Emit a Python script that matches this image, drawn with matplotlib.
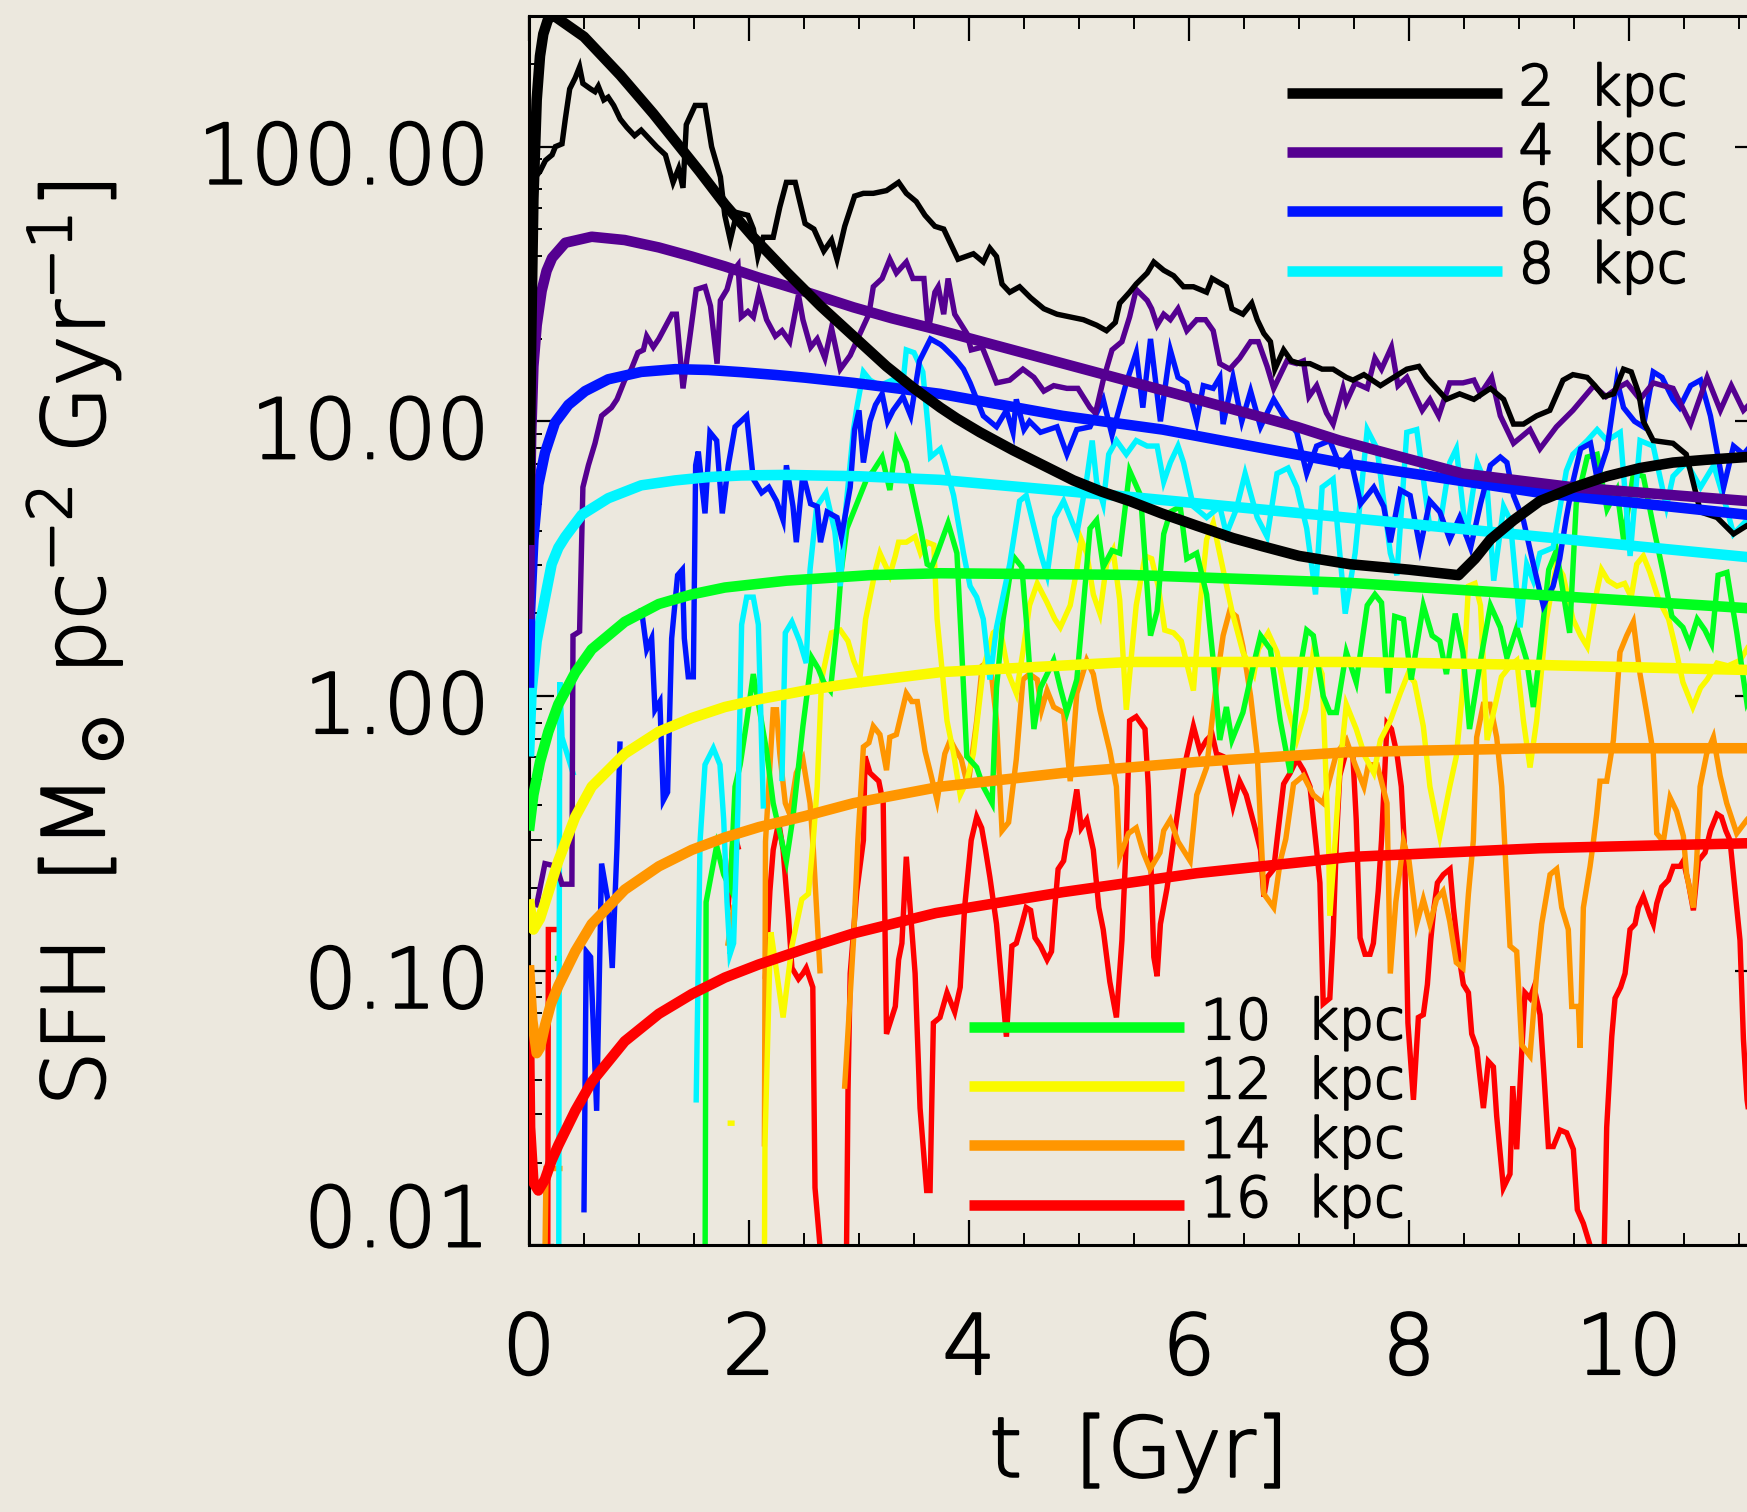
import numpy as np
import matplotlib
matplotlib.use("Agg")
import matplotlib.pyplot as plt
import matplotlib.transforms as mtransforms
import matplotlib.patheffects as patheffects
from matplotlib.legend_handler import HandlerLine2D
from matplotlib.lines import Line2D
from matplotlib.ticker import FixedLocator, LogLocator, MultipleLocator, NullFormatter

# ---------------------------------------------------------------------------
# Star formation histories at several galactocentric radii.
# Each series is a list of (t [Gyr], log10 SFH [Msun pc^-2 Gyr^-1]);
# a None value marks a gap (zero star formation).
# ---------------------------------------------------------------------------
RADII_KPC = [2, 4, 6, 8, 10, 12, 14, 16]
XTICKS = [0, 2, 4, 6, 8, 10]
YTICKS = [0.01, 0.1, 1.0, 10.0, 100.0]

# analytic model curves
MODEL_2KPC = [(0.00, 0.55), (0.01, 0.95), (0.02, 1.30), (0.04, 1.81), (0.07, 2.17), (0.10, 2.33),
              (0.13, 2.41), (0.17, 2.46), (0.21, 2.48), (0.25, 2.47), (0.50, 2.40), (0.83, 2.26),
              (1.13, 2.12), (1.33, 2.02), (1.55, 1.91), (1.78, 1.79), (2.04, 1.67), (2.35, 1.54),
              (2.65, 1.42), (2.95, 1.31), (3.25, 1.20), (3.50, 1.12), (3.74, 1.05), (3.89, 1.01),
              (4.10, 0.96), (4.40, 0.895), (4.70, 0.835), (4.95, 0.785), (5.20, 0.745), (5.46, 0.71),
              (5.75, 0.665), (6.07, 0.62), (6.40, 0.575), (6.67, 0.545), (7.00, 0.51), (7.46, 0.48),
              (8.00, 0.46), (8.45, 0.44), (8.60, 0.50), (8.74, 0.57), (8.95, 0.64), (9.19, 0.71),
              (9.50, 0.76), (9.80, 0.80), (10.10, 0.83), (10.40, 0.85), (10.70, 0.86), (11.07, 0.87),
              (11.20, 0.87)]
MODEL_4KPC = [(0.00, 0.28), (0.01, 0.72), (0.02, 0.95), (0.04, 1.20), (0.07, 1.35), (0.115, 1.475),
              (0.16, 1.548), (0.21, 1.595), (0.33, 1.65), (0.57, 1.672), (0.87, 1.66), (1.18, 1.633),
              (1.48, 1.60), (1.78, 1.564), (2.09, 1.523), (2.51, 1.472), (2.95, 1.415), (3.30, 1.375),
              (3.70, 1.335), (4.86, 1.21), (6.07, 1.08), (6.98, 0.98), (7.37, 0.93), (8.49, 0.81),
              (9.49, 0.76), (11.07, 0.71), (11.20, 0.71)]
MODEL_6KPC = [(0.00, 0.03), (0.01, 0.31), (0.04, 0.57), (0.085, 0.77), (0.145, 0.885), (0.236, 0.995),
              (0.358, 1.06), (0.51, 1.11), (0.72, 1.153), (1.02, 1.18), (1.33, 1.19), (1.63, 1.187),
              (1.93, 1.179), (2.24, 1.169), (2.51, 1.159), (2.95, 1.14), (3.74, 1.10), (4.85, 1.02),
              (5.76, 0.97), (7.37, 0.85), (8.36, 0.79), (9.19, 0.74), (11.07, 0.66), (11.20, 0.655)]
MODEL_8KPC = [(0.00, -0.22), (0.024, 0.02), (0.07, 0.20), (0.118, 0.30), (0.206, 0.48), (0.267, 0.54),
              (0.33, 0.58), (0.48, 0.66), (0.72, 0.72), (1.02, 0.767), (1.33, 0.785), (1.63, 0.797),
              (1.93, 0.803), (2.34, 0.805), (3.00, 0.80), (3.74, 0.787), (5.46, 0.725), (7.37, 0.652),
              (9.19, 0.58), (11.07, 0.506), (11.20, 0.50)]
MODEL_10KPC = [(0.00, -0.49), (0.04, -0.36), (0.10, -0.24), (0.176, -0.13), (0.267, -0.03), (0.42, 0.085),
               (0.57, 0.17), (0.87, 0.27), (1.18, 0.335), (1.48, 0.37), (1.78, 0.395), (2.34, 0.42),
               (3.10, 0.44), (3.74, 0.447), (5.46, 0.441), (7.46, 0.412), (9.19, 0.368), (11.07, 0.32),
               (11.20, 0.317)]
MODEL_12KPC = [(0.00, -0.74), (0.04, -0.85), (0.10, -0.81), (0.176, -0.715), (0.267, -0.60), (0.42, -0.44),
               (0.57, -0.33), (0.87, -0.21), (1.18, -0.13), (1.48, -0.08), (1.78, -0.04), (2.09, -0.012),
               (2.51, 0.02), (2.95, 0.047), (3.74, 0.087), (5.46, 0.124), (7.46, 0.124), (9.19, 0.113),
               (11.07, 0.095), (11.20, 0.094)]
MODEL_14KPC = [(0.00, -0.98), (0.03, -1.18), (0.07, -1.30), (0.10, -1.28), (0.145, -1.20), (0.20, -1.12),
               (0.267, -1.055), (0.42, -0.93), (0.57, -0.83), (0.87, -0.705), (1.18, -0.62), (1.48, -0.56),
               (1.78, -0.515), (2.09, -0.477), (2.51, -0.437), (2.95, -0.39), (3.74, -0.33), (4.85, -0.28),
               (6.07, -0.24), (7.46, -0.204), (9.19, -0.19), (11.07, -0.19), (11.20, -0.19)]
MODEL_16KPC = [(0.00, -1.22), (0.01, -1.57), (0.04, -1.77), (0.085, -1.80), (0.145, -1.76), (0.206, -1.69),
               (0.267, -1.635), (0.42, -1.51), (0.57, -1.405), (0.87, -1.257), (1.18, -1.157), (1.48, -1.085),
               (1.78, -1.025), (2.09, -0.977), (2.51, -0.92), (2.95, -0.864), (3.70, -0.79), (4.85, -0.714),
               (6.07, -0.645), (7.46, -0.586), (9.19, -0.554), (11.07, -0.536), (11.20, -0.535)]

# simulated star formation histories
SIM_2KPC = [(0.00, 1.80), (0.02, 1.84), (0.04, 1.88), (0.10, 1.91), (0.15, 1.95), (0.21, 1.97), (0.24, 2.00),
            (0.30, 2.01), (0.33, 2.10), (0.37, 2.21), (0.42, 2.25), (0.46, 2.29), (0.49, 2.23), (0.56, 2.21),
            (0.60, 2.20), (0.63, 2.22), (0.68, 2.17), (0.72, 2.18), (0.77, 2.15), (0.83, 2.10), (0.89, 2.07),
            (0.96, 2.04), (1.02, 2.06), (1.09, 2.03), (1.16, 2.00), (1.24, 1.97), (1.31, 1.87), (1.36, 1.92),
            (1.40, 1.85), (1.43, 2.08), (1.51, 2.15), (1.60, 2.15), (1.66, 2.00), (1.74, 1.89), (1.78, 1.75),
            (1.83, 1.66), (1.89, 1.76), (1.99, 1.75), (2.04, 1.70), (2.08, 1.60), (2.13, 1.67), (2.22, 1.67),
            (2.28, 1.78), (2.34, 1.87), (2.42, 1.87), (2.51, 1.72), (2.59, 1.70), (2.68, 1.62), (2.75, 1.66),
            (2.80, 1.59), (2.87, 1.71), (2.96, 1.82), (3.04, 1.83), (3.13, 1.83), (3.25, 1.84), (3.36, 1.87),
            (3.43, 1.83), (3.52, 1.80), (3.60, 1.75), (3.69, 1.71), (3.77, 1.70), (3.90, 1.59), (4.04, 1.61),
            (4.13, 1.58), (4.19, 1.63), (4.25, 1.60), (4.30, 1.50), (4.37, 1.47), (4.46, 1.49), (4.56, 1.45),
            (4.68, 1.41), (4.80, 1.39), (4.92, 1.38), (5.04, 1.37), (5.16, 1.35), (5.25, 1.33), (5.33, 1.36),
            (5.37, 1.43), (5.46, 1.47), (5.52, 1.50), (5.62, 1.54), (5.68, 1.58), (5.77, 1.55), (5.86, 1.53),
            (5.95, 1.49), (6.04, 1.49), (6.16, 1.47), (6.21, 1.52), (6.34, 1.49), (6.39, 1.41), (6.49, 1.39),
            (6.57, 1.43), (6.62, 1.37), (6.68, 1.32), (6.74, 1.29), (6.78, 1.19), (6.86, 1.26), (6.93, 1.22),
            (7.01, 1.21), (7.10, 1.21), (7.21, 1.19), (7.31, 1.19), (7.43, 1.16), (7.49, 1.15), (7.59, 1.17),
            (7.74, 1.13), (7.86, 1.16), (7.98, 1.19), (8.09, 1.20), (8.16, 1.16), (8.25, 1.12), (8.34, 1.08),
            (8.46, 1.10), (8.59, 1.08), (8.74, 1.12), (8.86, 1.08), (8.95, 0.99), (9.04, 0.99), (9.16, 1.02),
            (9.28, 1.04), (9.40, 1.15), (9.49, 1.17), (9.62, 1.16), (9.69, 1.13), (9.77, 1.09), (9.86, 1.10),
            (9.95, 1.19), (10.02, 1.18), (10.09, 1.10), (10.13, 1.00), (10.22, 0.93), (10.40, 0.92),
            (10.52, 0.88), (10.65, 0.67), (10.80, 0.65), (10.95, 0.59), (11.07, 0.62), (11.19, 0.60)]
SIM_4KPC = [(0.07, -0.76), (0.145, -0.61), (0.25, -0.62), (0.30, -0.685), (0.39, -0.685), (0.40, 0.22),
            (0.46, 0.235), (0.49, 0.76), (0.54, 0.84), (0.60, 0.92), (0.66, 1.02), (0.75, 1.05),
            (0.80, 1.08), (0.87, 1.15), (0.93, 1.19), (0.99, 1.25), (1.04, 1.26), (1.07, 1.31), (1.13, 1.27),
            (1.18, 1.30), (1.22, 1.33), (1.30, 1.39), (1.34, 1.39), (1.40, 1.12), (1.46, 1.30), (1.52, 1.48),
            (1.60, 1.49), (1.65, 1.42), (1.71, 1.21), (1.74, 1.44), (1.80, 1.48), (1.84, 1.54), (1.90, 1.57),
            (1.93, 1.38), (1.99, 1.40), (2.04, 1.38), (2.09, 1.47), (2.16, 1.37), (2.24, 1.31), (2.30, 1.33),
            (2.37, 1.29), (2.45, 1.46), (2.49, 1.37), (2.56, 1.27), (2.62, 1.30), (2.69, 1.23), (2.75, 1.34),
            (2.83, 1.19), (2.92, 1.24), (3.01, 1.32), (3.09, 1.39), (3.13, 1.49), (3.21, 1.52), (3.28, 1.59),
            (3.34, 1.54), (3.43, 1.58), (3.49, 1.52), (3.59, 1.52), (3.63, 1.33), (3.69, 1.47), (3.72, 1.49),
            (3.77, 1.39), (3.81, 1.52), (3.87, 1.39), (3.98, 1.32), (4.02, 1.26), (4.12, 1.27), (4.19, 1.20),
            (4.25, 1.14), (4.37, 1.15), (4.49, 1.19), (4.59, 1.16), (4.68, 1.11), (4.77, 1.13), (4.89, 1.12),
            (4.99, 1.12), (5.10, 1.05), (5.15, 1.03), (5.22, 1.15), (5.30, 1.26), (5.39, 1.29), (5.46, 1.38),
            (5.52, 1.48), (5.62, 1.44), (5.66, 1.41), (5.71, 1.35), (5.77, 1.39), (5.83, 1.37), (5.90, 1.41),
            (5.98, 1.33), (6.07, 1.37), (6.15, 1.37), (6.22, 1.33), (6.28, 1.21), (6.37, 1.19), (6.46, 1.23),
            (6.56, 1.29), (6.63, 1.29), (6.71, 1.20), (6.77, 1.12), (6.89, 1.22), (6.98, 1.21), (7.04, 1.22),
            (7.09, 1.09), (7.16, 1.13), (7.25, 1.03), (7.31, 0.99), (7.40, 1.12), (7.43, 1.07), (7.51, 1.14),
            (7.62, 1.12), (7.69, 1.23), (7.75, 1.19), (7.84, 1.27), (7.90, 1.13), (7.98, 1.16), (8.05, 1.10),
            (8.12, 1.04), (8.19, 1.08), (8.27, 1.02), (8.37, 1.14), (8.49, 1.14), (8.59, 1.15), (8.65, 1.10),
            (8.75, 1.16), (8.83, 1.02), (8.95, 0.92), (9.10, 0.97), (9.19, 0.90), (9.34, 0.98), (9.49, 1.04),
            (9.68, 1.13), (9.79, 1.09), (9.89, 1.12), (9.98, 1.14), (10.10, 1.08), (10.22, 1.14),
            (10.40, 1.12), (10.56, 0.99), (10.71, 1.16), (10.83, 1.04), (10.93, 1.13), (11.04, 1.04),
            (11.19, 1.10)]
SIM_6KPC = [(0.50, -1.87), (0.52, -0.93), (0.56, -0.95), (0.615, -1.51), (0.66, -0.61), (0.72, -0.75),
            (0.757, -0.99), (0.80, -0.55), (0.827, -0.175), (0.90, None), (1.024, 0.31), (1.07, 0.17),
            (1.115, 0.21), (1.145, -0.05), (1.19, -0.02), (1.221, -0.38), (1.26, -0.35), (1.297, 0.21),
            (1.351, 0.44), (1.394, 0.46), (1.412, 0.21), (1.448, 0.07), (1.494, 0.07), (1.515, 0.84),
            (1.539, 0.89), (1.60, 0.665), (1.645, 0.96), (1.706, 0.93), (1.757, 0.665), (1.812, 0.84),
            (1.873, 0.98), (1.979, 1.02), (2.039, 0.79), (2.115, 0.74), (2.18, 0.76), (2.25, 0.71),
            (2.31, 0.64), (2.34, 0.84), (2.40, 0.69), (2.43, 0.56), (2.49, 0.81), (2.56, 0.70), (2.62, 0.69),
            (2.65, 0.56), (2.71, 0.67), (2.80, 0.65), (2.84, 0.58), (2.92, 0.76), (2.96, 0.97), (3.00, 1.04),
            (3.04, 0.85), (3.10, 1.00), (3.15, 1.06), (3.21, 1.10), (3.26, 1.00), (3.31, 1.04), (3.40, 1.09),
            (3.47, 1.02), (3.55, 1.22), (3.65, 1.30), (3.74, 1.28), (3.77, 1.27), (3.87, 1.23), (3.95, 1.19),
            (4.01, 1.14), (4.07, 1.08), (4.13, 1.02), (4.25, 0.98), (4.34, 1.04), (4.40, 0.96), (4.43, 1.08),
            (4.50, 0.97), (4.55, 1.00), (4.65, 0.96), (4.80, 0.98), (4.89, 0.88), (4.98, 0.97), (5.10, 0.98),
            (5.22, 1.08), (5.30, 0.95), (5.43, 1.14), (5.52, 1.25), (5.58, 1.05), (5.65, 1.30), (5.74, 1.00),
            (5.83, 1.26), (5.90, 1.16), (5.98, 1.14), (6.07, 1.00), (6.13, 1.13), (6.22, 1.12), (6.28, 1.16),
            (6.31, 0.99), (6.40, 1.16), (6.48, 1.00), (6.56, 1.11), (6.65, 0.98), (6.77, 1.08), (6.86, 1.02),
            (6.98, 0.96), (7.07, 0.81), (7.16, 0.91), (7.28, 0.93), (7.37, 0.84), (7.46, 0.88), (7.56, 0.70),
            (7.68, 0.76), (7.77, 0.69), (7.83, 0.56), (7.92, 0.75), (8.01, 0.73), (8.10, 0.54), (8.19, 0.71),
            (8.28, 0.67), (8.37, 0.57), (8.46, 0.65), (8.56, 0.54), (8.65, 0.70), (8.74, 0.84), (8.83, 0.87),
            (8.89, 0.85), (8.95, 0.73), (9.04, 0.64), (9.13, 0.48), (9.22, 0.33), (9.31, 0.40), (9.37, 0.50),
            (9.43, 0.65), (9.49, 0.78), (9.56, 0.90), (9.65, 0.92), (9.71, 0.79), (9.80, 0.90), (9.89, 1.15),
            (9.95, 1.05), (10.05, 1.00), (10.13, 0.98), (10.22, 1.18), (10.30, 1.16), (10.40, 1.08),
            (10.46, 1.05), (10.56, 1.13), (10.65, 1.15), (10.74, 1.02), (10.86, 0.76), (10.95, 0.91),
            (11.04, 0.88), (11.19, 0.95)]
SIM_8KPC = [(0.27, -2.20), (0.275, -0.87), (0.28, 0.05), (0.30, -0.15), (0.40, -0.28), (0.45, None),
            (1.52, -1.47), (1.555, -0.53), (1.60, -0.25), (1.676, -0.19), (1.736, -0.25), (1.77, -0.45),
            (1.80, -0.75), (1.827, -0.94), (1.86, -0.90), (1.90, -0.40), (1.933, 0.26), (1.979, 0.36),
            (2.039, 0.36), (2.085, 0.26), (2.13, -0.40), (2.20, None), (2.30, -0.30), (2.33, 0.23),
            (2.39, 0.27), (2.46, 0.20), (2.52, 0.12), (2.555, 0.46), (2.615, 0.69), (2.70, 0.74), (2.78, 0.60),
            (2.83, 0.40), (2.87, 0.64), (2.95, 0.97), (2.98, 1.05), (3.04, 1.18), (3.10, 1.15), (3.19, 1.13),
            (3.30, 1.15), (3.40, 1.14), (3.43, 1.26), (3.50, 1.25), (3.58, 1.18), (3.63, 0.97), (3.65, 0.87),
            (3.74, 0.90), (3.78, 0.85), (3.86, 0.73), (3.95, 0.52), (4.01, 0.40), (4.07, 0.36), (4.13, 0.28),
            (4.19, 0.06), (4.25, 0.25), (4.37, 0.48), (4.46, 0.71), (4.52, 0.73), (4.65, 0.52), (4.71, 0.44),
            (4.78, 0.65), (4.86, 0.71), (4.98, 0.59), (5.07, 0.79), (5.12, 0.93), (5.16, 0.78), (5.22, 0.70),
            (5.27, 0.88), (5.34, 0.93), (5.43, 0.88), (5.52, 0.93), (5.62, 0.91), (5.71, 0.91), (5.77, 0.78),
            (5.83, 0.85), (5.90, 0.91), (5.95, 0.85), (6.04, 0.69), (6.16, 0.65), (6.28, 0.69), (6.34, 0.59),
            (6.43, 0.68), (6.51, 0.81), (6.62, 0.65), (6.71, 0.58), (6.80, 0.81), (6.90, 0.83), (6.98, 0.76),
            (7.07, 0.61), (7.15, 0.37), (7.21, 0.76), (7.31, 0.79), (7.42, 0.30), (7.51, 0.52), (7.62, 0.97),
            (7.71, 0.90), (7.83, 0.52), (7.89, 0.44), (7.98, 0.96), (8.07, 0.97), (8.19, 0.61), (8.28, 0.62),
            (8.37, 0.85), (8.43, 0.90), (8.52, 0.58), (8.62, 0.85), (8.71, 0.76), (8.77, 0.42), (8.86, 0.69),
            (8.92, 0.64), (9.01, 0.25), (9.07, 0.48), (9.13, 0.42), (9.19, 0.52), (9.31, 0.54), (9.43, 0.82),
            (9.49, 0.88), (9.62, 0.93), (9.71, 0.97), (9.80, 0.93), (9.92, 0.96), (10.01, 0.51), (10.10, 0.93),
            (10.22, 0.91), (10.34, 0.69), (10.40, 0.80), (10.52, 0.85), (10.65, 0.76), (10.77, 0.84),
            (10.89, 0.68), (10.95, 0.59), (11.07, 0.64), (11.19, 0.70)]
SIM_10KPC = [(0.26, -0.955), (0.275, -0.955), (0.30, None),
             (1.60, -2.20), (1.61, -0.75), (1.706, -0.545), (1.77, -0.65), (1.83, -0.70), (1.873, -0.33),
             (1.92, -0.25), (1.98, -0.09), (2.039, 0.08), (2.10, -0.06), (2.16, -0.20), (2.22, -0.39),
             (2.31, -0.55), (2.34, -0.60), (2.40, -0.44), (2.49, -0.11), (2.57, 0.14), (2.63, 0.10),
             (2.68, 0.05), (2.74, 0.02), (2.80, 0.25), (2.84, 0.46), (2.89, 0.61), (2.95, 0.67), (3.01, 0.73),
             (3.07, 0.79), (3.13, 0.82), (3.21, 0.87), (3.28, 0.75), (3.34, 0.93), (3.43, 0.85), (3.49, 0.74),
             (3.56, 0.61), (3.62, 0.48), (3.66, 0.47), (3.71, 0.52), (3.81, 0.63), (3.89, 0.52), (3.93, 0.20),
             (3.98, -0.22), (4.07, -0.26), (4.13, -0.33), (4.21, -0.39), (4.25, 0.03), (4.31, 0.28),
             (4.40, 0.51), (4.48, 0.47), (4.52, 0.28), (4.59, -0.12), (4.65, 0.03), (4.77, 0.13), (4.83, 0.03),
             (4.89, -0.06), (4.98, 0.06), (5.04, 0.33), (5.10, 0.61), (5.16, 0.64), (5.22, 0.47), (5.30, 0.53),
             (5.37, 0.52), (5.46, 0.82), (5.56, 0.73), (5.65, 0.22), (5.71, 0.31), (5.77, 0.59), (5.83, 0.67),
             (5.92, 0.69), (5.98, 0.50), (6.07, 0.52), (6.16, 0.37), (6.22, 0.13), (6.28, -0.16), (6.34, -0.04),
             (6.39, -0.16), (6.49, -0.06), (6.59, 0.12), (6.65, 0.22), (6.74, 0.17), (6.83, -0.09),
             (6.92, -0.28), (7.01, 0.10), (7.07, 0.24), (7.13, 0.22), (7.22, 0.00), (7.28, -0.06),
             (7.34, -0.06), (7.43, 0.16), (7.52, 0.05), (7.62, 0.33), (7.69, 0.37), (7.75, 0.34), (7.81, 0.01),
             (7.87, 0.29), (7.95, 0.28), (8.02, 0.06), (8.13, 0.33), (8.21, 0.22), (8.28, 0.20), (8.34, 0.08),
             (8.42, 0.30), (8.49, 0.16), (8.55, -0.12), (8.65, 0.13), (8.74, 0.33), (8.83, 0.25), (8.89, 0.14),
             (8.98, 0.25), (9.07, 0.13), (9.13, -0.04), (9.19, 0.16), (9.27, 0.46), (9.34, 0.53), (9.46, 0.23),
             (9.52, 0.70), (9.62, 0.87), (9.71, 0.88), (9.80, 0.68), (9.89, 0.75), (9.95, 0.57), (10.04, 0.81),
             (10.13, 0.80), (10.22, 0.62), (10.31, 0.45), (10.39, 0.29), (10.49, 0.25), (10.55, 0.19),
             (10.62, 0.28), (10.69, 0.24), (10.75, 0.19), (10.81, 0.44), (10.89, 0.45), (10.98, 0.23),
             (11.07, -0.02), (11.19, 0.10)]
SIM_12KPC = [(1.83, -1.555), (1.845, -1.555), (1.90, None),
             (2.14, -2.10), (2.145, -1.63), (2.19, -0.95), (2.20, -0.86), (2.31, -1.17), (2.39, -0.91),
             (2.48, -0.74), (2.54, -0.72), (2.585, -0.52), (2.62, -0.33), (2.66, 0.06), (2.75, 0.23),
             (2.83, 0.24), (2.90, 0.20), (2.95, 0.13), (3.01, 0.07), (3.06, 0.28), (3.15, 0.46), (3.19, 0.52),
             (3.28, 0.44), (3.33, 0.51), (3.36, 0.56), (3.43, 0.56), (3.51, 0.58), (3.56, 0.52), (3.62, 0.56),
             (3.68, 0.55), (3.71, 0.28), (3.80, -0.09), (3.86, -0.21), (3.92, -0.36), (3.98, -0.31),
             (4.04, -0.21), (4.13, 0.10), (4.22, 0.23), (4.28, 0.25), (4.36, 0.08), (4.43, 0.01), (4.49, 0.16),
             (4.55, 0.33), (4.62, 0.41), (4.71, 0.34), (4.78, 0.28), (4.83, 0.25), (4.92, 0.33), (4.98, 0.46),
             (5.02, 0.57), (5.07, 0.52), (5.13, 0.37), (5.19, 0.30), (5.25, 0.48), (5.31, 0.53), (5.37, 0.35),
             (5.43, -0.05), (5.52, 0.33), (5.60, 0.51), (5.66, 0.50), (5.72, 0.40), (5.78, 0.24), (5.86, 0.23),
             (5.93, 0.20), (6.04, 0.02), (6.10, 0.33), (6.16, 0.57), (6.22, 0.63), (6.31, 0.46), (6.39, 0.31),
             (6.49, 0.16), (6.59, 0.08), (6.63, 0.17), (6.72, 0.23), (6.80, 0.16), (6.89, -0.03), (6.98, -0.16),
             (7.06, -0.05), (7.13, 0.16), (7.21, 0.08), (7.27, -0.56), (7.28, -0.80), (7.33, -0.52),
             (7.37, -0.27), (7.43, -0.03), (7.52, -0.12), (7.60, -0.22), (7.68, -0.28), (7.74, -0.16),
             (7.83, -0.09), (7.92, 0.01), (7.99, 0.08), (8.05, 0.05), (8.13, -0.11), (8.19, -0.33),
             (8.28, -0.51), (8.37, -0.33), (8.43, -0.22), (8.49, 0.03), (8.54, 0.40), (8.60, 0.41), (8.65, 0.33),
             (8.71, -0.16), (8.78, -0.04), (8.84, 0.07), (8.92, 0.11), (8.98, 0.13), (9.04, -0.09),
             (9.10, -0.26), (9.16, -0.09), (9.25, 0.28), (9.34, 0.48), (9.40, 0.44), (9.49, 0.28), (9.56, 0.22),
             (9.62, 0.18), (9.68, 0.33), (9.75, 0.46), (9.81, 0.42), (9.89, 0.40), (9.96, 0.41), (10.02, 0.36),
             (10.07, 0.48), (10.13, 0.51), (10.19, 0.45), (10.27, 0.35), (10.36, 0.28), (10.42, 0.18),
             (10.49, 0.05), (10.58, -0.04), (10.65, 0.03), (10.71, 0.06), (10.80, 0.12), (10.90, 0.11),
             (11.01, 0.13), (11.07, 0.17), (11.19, 0.10)]
SIM_14KPC = [(0.14, -2.20), (0.155, -1.72), (0.28, -1.72), (0.30, None), (1.81, -0.90), (1.86, -0.77),
             (1.88, None), (2.14, -1.63), (2.15, -0.53), (2.22, -0.05), (2.25, -0.05), (2.28, -0.21),
             (2.33, -0.39), (2.37, -0.43), (2.43, -0.28), (2.49, -0.23), (2.555, -0.39), (2.585, -0.56),
             (2.645, -1.00), (2.70, None), (2.87, -1.42), (2.95, -0.89), (2.99, -0.525), (3.04, -0.185),
             (3.09, -0.17), (3.13, -0.11), (3.19, -0.14), (3.25, -0.27), (3.28, -0.15), (3.34, -0.14),
             (3.43, 0.01), (3.48, -0.02), (3.53, -0.02), (3.60, -0.20), (3.65, -0.28), (3.71, -0.38),
             (3.78, -0.21), (3.83, -0.16), (3.87, -0.19), (3.93, -0.23), (3.99, -0.33), (4.07, -0.09),
             (4.12, 0.11), (4.19, 0.13), (4.25, -0.09), (4.30, -0.49), (4.36, -0.46), (4.43, -0.23),
             (4.49, 0.06), (4.55, 0.08), (4.62, 0.06), (4.66, -0.05), (4.71, 0.02), (4.77, -0.04),
             (4.86, -0.06), (4.92, -0.31), (4.98, 0.01), (5.07, 0.13), (5.13, 0.08), (5.19, -0.05),
             (5.28, -0.20), (5.34, -0.33), (5.37, -0.585), (5.45, -0.50), (5.52, -0.48), (5.585, -0.57),
             (5.646, -0.63), (5.736, -0.57), (5.77, -0.49), (5.83, -0.45), (5.90, -0.53), (6.01, -0.60),
             (6.07, -0.36), (6.16, -0.26), (6.25, 0.05), (6.31, 0.22), (6.37, 0.31), (6.43, 0.29), (6.49, 0.18),
             (6.56, 0.00), (6.62, -0.21), (6.66, -0.55), (6.68, -0.72), (6.77, -0.77), (6.83, -0.60),
             (6.88, -0.52), (6.95, -0.32), (7.04, -0.29), (7.13, -0.36), (7.22, -0.39), (7.34, -0.21),
             (7.43, -0.16), (7.51, -0.25), (7.59, -0.33), (7.63, -0.25), (7.71, -0.25), (7.80, -0.39),
             (7.83, -1.01), (7.88, -0.75), (7.95, -0.53), (8.00, -0.60), (8.07, -0.83), (8.13, -0.74),
             (8.19, -0.83), (8.25, -0.74), (8.31, -0.71), (8.37, -0.82), (8.43, -0.97), (8.49, -0.99),
             (8.54, -0.72), (8.585, -0.525), (8.615, -0.15), (8.676, -0.03), (8.737, -0.03), (8.797, -0.15),
             (8.843, -0.33), (8.873, -0.56), (8.918, -0.91), (8.979, -0.93), (9.024, -1.27), (9.10, -1.31),
             (9.16, -1.01), (9.206, -0.83), (9.282, -0.65), (9.342, -0.63), (9.388, -0.77), (9.448, -0.85),
             (9.479, -1.13), (9.54, -1.13), (9.555, -1.28), (9.585, -0.77), (9.646, -0.62), (9.676, -0.53),
             (9.706, -0.43), (9.736, -0.31), (9.797, -0.31), (9.858, -0.16), (9.918, 0.16), (9.979, 0.22),
             (10.039, 0.27), (10.10, 0.08), (10.16, -0.06), (10.221, -0.21), (10.252, -0.50), (10.312, -0.53),
             (10.373, -0.37), (10.433, -0.42), (10.494, -0.51), (10.524, -0.65), (10.585, -0.77),
             (10.615, -0.60), (10.646, -0.33), (10.706, -0.21), (10.767, -0.15), (10.828, -0.29),
             (10.888, -0.39), (10.979, -0.50), (11.073, -0.45), (11.19, -0.40)]
SIM_16KPC = [(0.17, -2.20), (0.176, -0.85), (0.267, -0.85), (0.30, None), (1.81, -0.77), (1.857, -0.51),
             (1.88, -0.52), (1.90, -0.55), (1.92, None), (2.15, -1.02), (2.19, -0.71), (2.22, -0.56),
             (2.27, -0.46), (2.31, -0.56), (2.36, -0.81), (2.39, -0.99), (2.45, -1.03),
             (2.49, -1.01), (2.52, -0.99), (2.58, -1.06), (2.60, -1.79), (2.645, -2.00), (2.75, -2.30),
             (2.88, -2.30), (2.90, -1.44), (2.92, -1.01), (2.98, -0.71), (3.04, -0.525), (3.055, -0.22),
             (3.10, -0.28), (3.18, -0.31), (3.22, -0.39), (3.25, -1.23), (3.33, -1.13), (3.36, -0.96),
             (3.39, -0.90), (3.43, -0.585), (3.51, -1.01), (3.555, -1.50), (3.615, -1.80), (3.646, -1.80),
             (3.676, -1.19), (3.736, -1.17), (3.80, -1.08), (3.87, -1.15), (3.92, -1.06), (3.96, -0.77),
             (4.02, -0.525), (4.07, -0.44), (4.115, -0.48), (4.15, -0.56), (4.19, -0.66), (4.25, -0.83),
             (4.34, -1.24), (4.39, -0.91), (4.43, -0.90), (4.48, -0.83), (4.52, -0.77), (4.56, -0.78),
             (4.60, -0.88), (4.65, -0.91), (4.71, -0.96), (4.75, -0.93), (4.78, -0.77), (4.81, -0.63),
             (4.86, -0.60), (4.89, -0.525), (4.92, -0.49), (4.98, -0.34), (5.02, -0.48), (5.07, -0.45),
             (5.13, -0.56), (5.18, -0.77), (5.22, -0.85), (5.28, -1.04), (5.34, -1.17), (5.39, -0.89),
             (5.43, -0.525), (5.46, -0.09), (5.52, -0.075), (5.60, -0.12), (5.63, -0.33), (5.65, -0.56),
             (5.68, -0.95), (5.71, -1.02), (5.74, -0.83), (5.80, -0.70), (5.86, -0.525), (5.95, -0.27),
             (6.04, -0.11), (6.10, -0.20), (6.16, -0.16), (6.21, -0.14), (6.25, -0.21), (6.31, -0.22),
             (6.40, -0.40), (6.46, -0.31), (6.52, -0.36), (6.60, -0.48), (6.65, -0.56), (6.68, -0.73),
             (6.71, -0.66), (6.77, -0.63), (6.80, -0.525), (6.86, -0.32), (6.92, -0.28), (6.98, -0.23),
             (7.04, -0.27), (7.10, -0.33), (7.16, -0.56), (7.19, -0.68), (7.22, -1.12), (7.28, -1.10),
             (7.31, -0.87), (7.34, -0.525), (7.37, -0.29), (7.43, -0.20), (7.49, -0.22), (7.52, -0.45),
             (7.555, -0.88), (7.60, -0.94), (7.646, -0.94), (7.676, -0.90), (7.72, -0.71), (7.75, -0.525),
             (7.80, -0.10), (7.84, -0.12), (7.89, -0.21), (7.93, -0.33), (7.96, -0.56), (7.99, -1.19),
             (8.04, -1.47), (8.085, -1.17), (8.13, -1.16), (8.167, -1.05), (8.197, -0.89), (8.227, -0.77),
             (8.258, -0.68), (8.312, -0.65), (8.373, -0.63), (8.403, -0.77), (8.448, -0.93), (8.494, -1.05),
             (8.54, -1.08), (8.57, -1.23), (8.615, -1.28), (8.676, -1.50), (8.721, -1.33), (8.767, -1.35),
             (8.797, -1.53), (8.858, -1.79), (8.918, -1.74), (8.943, -1.42), (8.979, -1.65), (9.024, -1.30),
             (9.054, -1.08), (9.10, -1.10), (9.136, -1.06), (9.191, -1.16), (9.227, -1.38), (9.267, -1.64),
             (9.312, -1.64), (9.373, -1.58), (9.433, -1.59), (9.494, -1.65), (9.53, -1.87), (9.585, -1.92),
             (9.646, -2.00), (9.70, -2.30), (9.76, -2.30), (9.797, -1.57), (9.843, -1.24), (9.873, -1.10),
             (9.924, -1.06), (9.964, -1.01), (10.009, -0.85), (10.055, -0.83), (10.085, -0.77), (10.13, -0.73),
             (10.191, -0.80), (10.221, -0.83), (10.252, -0.755), (10.297, -0.695), (10.358, -0.67),
             (10.403, -0.62), (10.464, -0.62), (10.494, -0.60), (10.54, -0.68), (10.585, -0.78), (10.63, -0.60),
             (10.691, -0.57), (10.74, -0.49), (10.80, -0.43), (10.84, -0.44), (10.88, -0.49), (10.918, -0.525),
             (10.964, -0.71), (11.009, -0.89), (11.04, -1.25), (11.073, -1.47), (11.19, -1.80)]

MODELS = [MODEL_2KPC, MODEL_4KPC, MODEL_6KPC, MODEL_8KPC,
          MODEL_10KPC, MODEL_12KPC, MODEL_14KPC, MODEL_16KPC]
SIMS = [SIM_2KPC, SIM_4KPC, SIM_6KPC, SIM_8KPC,
        SIM_10KPC, SIM_12KPC, SIM_14KPC, SIM_16KPC]

# ---------------------------------------------------------------------------
# styling
# ---------------------------------------------------------------------------
COLORS = ["#000000", "#550091", "#0014FF", "#00F5FF",
          "#00FF1E", "#FAFA00", "#FF9600", "#FF0000"]
PAPER = "#ECE8DE"
THIN_LW = 3.9
THICK_LW = 7.6
TICK_FS = 60
LEG_FS = 40
WEIGHT = "light"
# thin strokes are thickened slightly so all lettering has an even pen width
PEN = [patheffects.withStroke(linewidth=1.5, foreground="black")]

plt.rcParams["font.family"] = ["DejaVu Sans"]
plt.rcParams["font.weight"] = WEIGHT
plt.rcParams["mathtext.fontset"] = "dejavusans"


def unpack(series):
    t = np.array([p[0] for p in series], dtype=float)
    lg = np.array([np.nan if p[1] is None else p[1] for p in series], dtype=float)
    return t, 10.0 ** lg


fig = plt.figure(figsize=(17.47, 15.12), dpi=100, facecolor=PAPER)
ax = fig.add_axes([0.3028, 0.1763, 0.7046, 0.8134])
ax.set_facecolor(PAPER)

# simulated histories first, model curves on top
for series, color in reversed(list(zip(SIMS, COLORS))):
    t, sfh = unpack(series)
    ax.plot(t, sfh, color=color, lw=THIN_LW, solid_joinstyle="miter", zorder=2)

model_lines = {}
for series, color, r in reversed(list(zip(MODELS, COLORS, RADII_KPC))):
    t, sfh = unpack(series)
    (ln,) = ax.plot(t, sfh, color=color, lw=THICK_LW, solid_capstyle="butt", zorder=3)
    model_lines[r] = ln

ax.set_yscale("log")
ax.set_xlim(0, 11.19)
ax.set_ylim(0.01, 300)

# axes frame and ticks
for sp in ax.spines.values():
    sp.set_linewidth(2.2)
ax.set_xticks(XTICKS)
ax.set_xticklabels([str(v) for v in XTICKS], fontweight=WEIGHT)
ax.xaxis.set_minor_locator(MultipleLocator(0.5))
ax.yaxis.set_major_locator(FixedLocator(YTICKS))
ax.yaxis.set_minor_locator(LogLocator(base=10, subs=np.arange(2, 10)))
ax.yaxis.set_minor_formatter(NullFormatter())
ax.tick_params(which="major", direction="in", length=18, width=1.6,
               top=True, right=True, labelsize=TICK_FS, pad=46.5)
ax.tick_params(which="minor", direction="in", length=9, width=1.4, top=True, right=True)
ax.tick_params(axis="y", which="both", labelleft=False)
for lbl in ax.get_xticklabels():
    lbl.set_path_effects(PEN)

# y tick labels with two decimals
ylab_trans = mtransforms.blended_transform_factory(ax.transAxes, ax.transData)
for v in YTICKS:
    shift = 31 if v == YTICKS[0] else -5
    ax.text(-0.0317, v, f"{v:.2f}", ha="right", va="center_baseline", fontsize=TICK_FS,
            fontweight=WEIGHT, path_effects=PEN,
            transform=mtransforms.offset_copy(ylab_trans, fig=fig, y=shift, units="dots"),
            clip_on=False)

ax.set_xlabel("t  [Gyr]", fontsize=TICK_FS, fontweight=WEIGHT)
ax.xaxis.set_label_coords(0.4955, -0.136)
ax.xaxis.label.set_va("top")
ax.xaxis.label.set_path_effects(PEN)
ax.set_ylabel(r"SFH  [M$_\odot$ pc$^{-2}$ Gyr$^{-1}$]", fontsize=62, fontweight=WEIGHT)
ax.yaxis.set_label_coords(-0.3274, 0.489)
ax.yaxis.label.set_path_effects(PEN)


# legend keys sit a little lower relative to the label text
def _key_style(key, orig):
    key.update_from(orig)
    key.set_ydata(np.asarray(key.get_ydata(), dtype=float) - 0.134 * LEG_FS)


handler = {Line2D: HandlerLine2D(update_func=_key_style)}
leg_kw = dict(loc="upper left", frameon=False, handlelength=3.87,
              handletextpad=0.3, labelspacing=0.09, borderpad=0.0, borderaxespad=0.0,
              handler_map=handler, prop={"size": LEG_FS, "weight": WEIGHT})

inner = RADII_KPC[:4]
outer = RADII_KPC[4:]
leg1 = ax.legend([model_lines[r] for r in inner], [f"{r}  kpc" for r in inner],
                 bbox_to_anchor=(0.6158, 0.9615), **leg_kw)
ax.add_artist(leg1)
leg2 = ax.legend([model_lines[r] for r in outer], [f"{r}  kpc" for r in outer],
                 bbox_to_anchor=(0.3574, 0.2020), **leg_kw)
for leg in (leg1, leg2):
    for txt in leg.get_texts():
        txt.set_path_effects(PEN)

fig.savefig("out.png", dpi=100, facecolor=PAPER)
